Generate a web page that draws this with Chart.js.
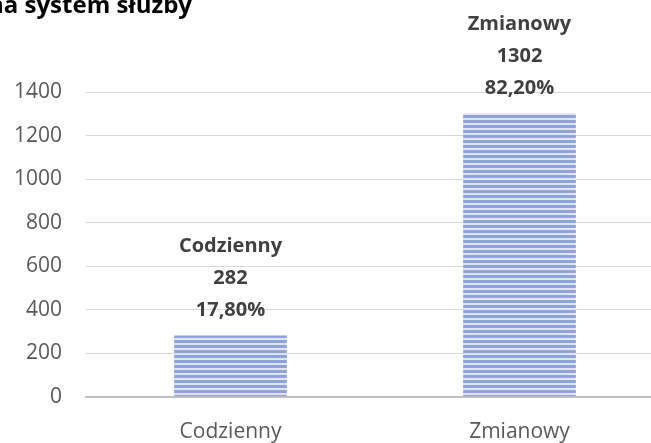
<!DOCTYPE html>
<html>
<head>
<meta charset="utf-8">
<script src="https://cdn.jsdelivr.net/npm/chart.js@4.4.1/dist/chart.umd.min.js"></script>
<style>
  html, body { margin: 0; padding: 0; background: #fff; overflow: hidden; }
  #wrap { position: relative; width: 664px; height: 443px; }
</style>
</head>
<body>
<div id="wrap"><canvas id="chart"></canvas></div>
<script>
const chartTitle = "Struktura funkcjonariuszy na system służby"
const categories = ["Codzienny", "Zmianowy"]
const counts = [282, 1302]
const shares = ["17,80%", "82,20%"]
const yTicks = [0, 200, 400, 600, 800, 1000, 1200, 1400]

const FONT = "'Open Sans', 'Noto Sans', sans-serif"

// striped fill like the original Excel pattern
function stripes() {
  const c = document.createElement("canvas")
  c.width = 4
  c.height = 5
  const g = c.getContext("2d")
  g.fillStyle = "#dfe5f4"
  g.fillRect(0, 0, 4, 5)
  g.fillStyle = "#8fa3d7"
  g.fillRect(0, 0, 4, 3)
  return g.createPattern(c, "repeat")
}

const titlePlugin = {
  id: "cutTitle",
  afterDraw(chart) {
    const ctx = chart.ctx
    ctx.save()
    ctx.font = "bold 24px " + FONT
    ctx.fillStyle = "#000"
    ctx.textAlign = "right"
    ctx.textBaseline = "alphabetic"
    ctx.fillText(chartTitle, 192, 13)
    ctx.restore()
  },
}

const labelPlugin = {
  id: "barLabels",
  afterDatasetsDraw(chart) {
    const ctx = chart.ctx
    const meta = chart.getDatasetMeta(0)
    ctx.save()
    ctx.font = "bold 20px " + FONT
    ctx.fillStyle = "#404040"
    ctx.textAlign = "center"
    ctx.textBaseline = "middle"
    meta.data.forEach((bar, i) => {
      const lines = [categories[i], String(counts[i]), shares[i]]
      lines.forEach((t, j) => {
        ctx.fillText(t, bar.x, bar.y - 25 - (2 - j) * 32)
      })
    })
    ctx.restore()
  },
}

new Chart(document.getElementById("chart"), {
  type: "bar",
  data: {
    labels: categories,
    datasets: [
      {
        data: counts,
        backgroundColor: stripes(),
        borderWidth: 0,
        barPercentage: 0.39,
        categoryPercentage: 1,
      },
    ],
  },
  options: {
    animation: false,
    responsive: true,
    maintainAspectRatio: false,
    devicePixelRatio: 1,
    layout: { padding: { top: 92, right: 0, left: 0, bottom: 0 } },
    plugins: {
      legend: { display: false },
      tooltip: { enabled: false },
    },
    scales: {
      x: {
        grid: { display: false, drawTicks: false },
        border: { display: true, color: "#bfbfbf", width: 2 },
        ticks: { color: "#595959", font: { family: FONT, size: 21 }, padding: 22 },
        afterFit(s) { s.height = 46 },
      },
      y: {
        min: 0,
        max: 1400,
        afterBuildTicks(s) { s.ticks = yTicks.map((v) => ({ value: v })) },
        grid: {
          drawTicks: false,
          color: (c) => (c.tick && c.tick.value === 0 ? "#bfbfbf" : "#d9d9d9"),
          lineWidth: (c) => (c.tick && c.tick.value === 0 ? 2 : 1),
        },
        border: { display: false },
        ticks: {
          color: "#595959",
          font: { family: FONT, size: 21 },
          padding: 24,
          callback: (v) => String(v),
        },
        afterFit(s) { s.width = 86 },
      },
    },
  },
  plugins: [titlePlugin, labelPlugin],
})
</script>
</body>
</html>
